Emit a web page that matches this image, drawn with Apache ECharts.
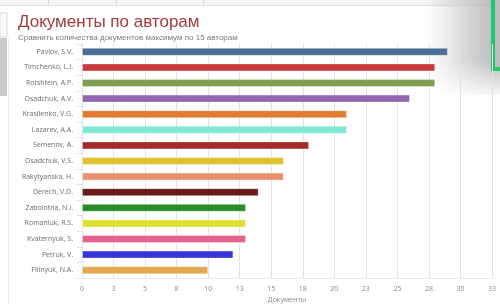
<!DOCTYPE html>
<html>
<head>
<meta charset="utf-8">
<script src="https://cdn.jsdelivr.net/npm/echarts@6/dist/echarts.min.js"></script>
<style>
  html, body { margin: 0; padding: 0; background: #fff; }
  #chart { width: 500px; height: 304px; }
</style>
</head>
<body>
<div id="chart"></div>
<script>
  // авторы и число документов
  var authors = ['Pavlov, S.V.', 'Timchenko, L.I.', 'Rotshtein, A.P.', 'Osadchuk, A.V.', 'Krasilenko, V.G.',
    'Lazarev, A.A.', 'Semenov, A.', 'Osadchuk, V.S.', 'Rakytyanska, H.', 'Derech, V.D.',
    'Zabolotna, N.I.', 'Romaniuk, R.S.', 'Kvaternyuk, S.', 'Petruk, V.', 'Filinyuk, N.A.']
  var docs = [29, 28, 28, 26, 21, 21, 18, 16, 16, 14, 13, 13, 13, 12, 10]
  var barColors = ['#4a6d96', '#c9383c', '#7f9d53', '#9366b0', '#e07b31', '#7ee9d2', '#a52a2a', '#e1c131',
    '#e9906f', '#6b1a1a', '#2a8b2a', '#dfdf31', '#e3628f', '#3535d9', '#e2a94f']
  var axisMax = 32.5
  var axisStep = 2.5

  var chart = echarts.init(document.getElementById('chart'))

  var option = {
    animation: false,
    textStyle: { fontFamily: 'Open Sans' },
    title: {
      text: 'Документы по авторам',
      subtext: 'Сравнить количества документов максимум по 15 авторам',
      left: 13,
      top: 9,
      itemGap: 3,
      textStyle: { fontSize: 17, fontWeight: 'normal', color: '#a23b3b', fontFamily: 'Liberation Sans' },
      subtextStyle: { fontSize: 8, color: '#7a7a7a', fontFamily: 'Liberation Sans' }
    },
    grid: {
      left: 82, right: 8, top: 44, bottom: 26,
      containLabel: false,
      outerBoundsMode: 'none'
    },
    xAxis: {
      type: 'value',
      min: 0,
      max: axisMax,
      interval: axisStep,
      name: 'Документы',
      nameLocation: 'middle',
      nameGap: 17,
      nameTextStyle: { fontSize: 7, color: '#888' },
      axisLine: { show: true, lineStyle: { color: '#e3e9f0' } },
      axisTick: { show: false },
      axisLabel: {
        fontSize: 7, color: '#888', margin: 7,
        formatter: function (v) { return Math.round(v) }
      },
      splitLine: { show: true, lineStyle: { color: '#e2e2e2', width: 1 } }
    },
    yAxis: {
      type: 'category',
      inverse: true,
      data: authors,
      axisLine: { show: true, lineStyle: { color: '#dbe4ee' } },
      axisTick: { show: true, length: 5, lineStyle: { color: '#dbe4ee' } },
      axisLabel: { fontSize: 7, color: '#6a6a6a', margin: 9 }
    },
    series: [
      {
        type: 'bar',
        barWidth: 8,
        data: docs.map(function (v, i) {
          return {
            value: v,
            itemStyle: { color: barColors[i], borderColor: 'rgba(255,255,255,0.35)', borderWidth: 1 }
          }
        })
      }
    ],
    graphic: [
      // полоса вкладок сверху
      { type: 'rect', shape: { x: 0, y: 0, width: 500, height: 5 }, style: { fill: '#f3f3f3' }, silent: true },
      { type: 'line', shape: { x1: 0, y1: 5.5, x2: 500, y2: 5.5 }, style: { stroke: '#e2e2e2', lineWidth: 1 }, silent: true },
      { type: 'line', shape: { x1: 48.5, y1: 0, x2: 48.5, y2: 5 }, style: { stroke: '#d8d8d8' }, silent: true },
      { type: 'line', shape: { x1: 116.5, y1: 0, x2: 116.5, y2: 5 }, style: { stroke: '#d8d8d8' }, silent: true },
      { type: 'line', shape: { x1: 203.5, y1: 0, x2: 203.5, y2: 5 }, style: { stroke: '#d8d8d8' }, silent: true },
      // прокрутка слева
      { type: 'rect', shape: { x: 0, y: 13, width: 7, height: 24 }, style: { fill: '#fafafa', stroke: '#dddddd' }, silent: true },
      { type: 'rect', shape: { x: 0, y: 38, width: 7, height: 58 }, style: { fill: '#c9c9c9' }, silent: true },
      { type: 'line', shape: { x1: 8.5, y1: 38, x2: 8.5, y2: 304 }, style: { stroke: '#ececec' }, silent: true },
      // тень справа сверху
      {
        type: 'rect', shape: { x: 425, y: 0, width: 75, height: 95 }, silent: true,
        style: {
          fill: new echarts.graphic.LinearGradient(0, 0, 1, 0, [
            { offset: 0, color: 'rgba(190,190,190,0)' },
            { offset: 0.6, color: 'rgba(175,175,175,0.55)' },
            { offset: 1, color: 'rgba(165,165,165,0.8)' }
          ])
        }
      },
      {
        type: 'rect', shape: { x: 425, y: 60, width: 75, height: 40 }, silent: true,
        style: {
          fill: new echarts.graphic.LinearGradient(0, 0, 0, 1, [
            { offset: 0, color: 'rgba(255,255,255,0)' },
            { offset: 1, color: 'rgba(255,255,255,1)' }
          ])
        }
      },
      { type: 'rect', shape: { x: 493, y: -4, width: 12, height: 73 }, style: { fill: '#bcbcbc', stroke: '#1ec86b', lineWidth: 4 }, silent: true }
    ]
  }

  chart.setOption(option)
</script>
</body>
</html>
